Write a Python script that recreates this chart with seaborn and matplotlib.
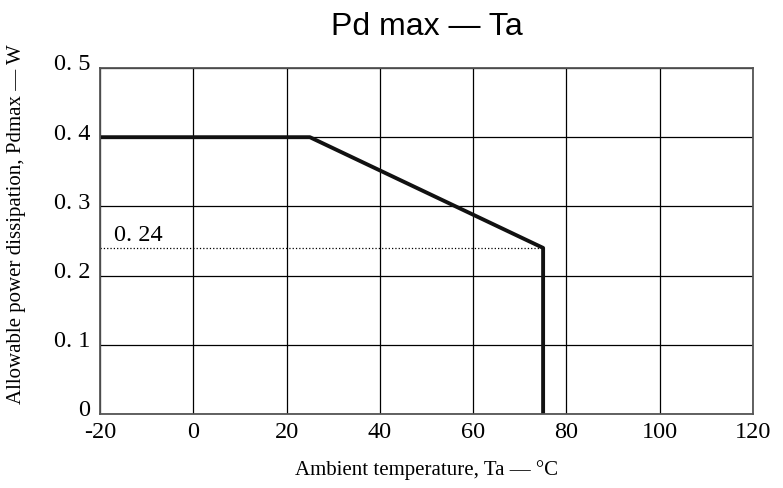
import pandas as pd
import matplotlib.pyplot as plt
import matplotlib.transforms as mtrans
import seaborn as sns

# derating curve
ta = [-20, 25, 75, 75]
pd_max = [0.4, 0.4, 0.24, 0.0]

x_ticks = [-20, 0, 20, 40, 60, 80, 100, 120]
y_ticks = [0.0, 0.1, 0.2, 0.3, 0.4, 0.5]
y_tick_labels = ['0', '0. 1', '0. 2', '0. 3', '0. 4', '0. 5']

knee_value = 0.24
knee_label = '0. 24'

sns.set_theme(style="white")
plt.rcParams['font.family'] = ['Liberation Serif', 'DejaVu Serif']
plt.rcParams['text.color'] = 'black'
plt.rcParams['axes.labelcolor'] = 'black'

df = pd.DataFrame({'Ta': ta, 'Pd': pd_max})

fig, ax = plt.subplots(figsize=(7.83, 4.88), dpi=100)
fig.subplots_adjust(left=100 / 783, right=753 / 783, top=1 - 68 / 488, bottom=1 - 414 / 488)

ax.set_xlim(-20, 120)
ax.set_ylim(0, 0.5)
ax.set_xticks(x_ticks)
ax.set_xticklabels([str(v) for v in x_ticks])
ax.set_yticks(y_ticks)
ax.set_yticklabels(y_tick_labels)

ax.grid(True, color='black', linewidth=0.9)
ax.set_axisbelow(True)

# dotted reference line at the knee
ax.plot([-20, ta[2]], [knee_value, knee_value], color='black', linestyle=':', linewidth=0.9)
ax.text(-17, knee_value + 0.003, knee_label, fontsize=17.5, ha='left', va='bottom')

sns.lineplot(data=df, x='Ta', y='Pd', sort=False, estimator=None,
             color='#111111', linewidth=2.8, ax=ax)

for s in ax.spines.values():
    s.set_color('#555555')
    s.set_linewidth(1.3)

ax.tick_params(axis='both', length=0, labelsize=17.5, colors='black')
ax.tick_params(axis='x', pad=6)
ax.tick_params(axis='y', pad=7)

# y labels sit a little above their grid lines in the original
shift_up = mtrans.ScaledTranslation(0, 4 / 72, fig.dpi_scale_trans)
for lab in ax.get_yticklabels():
    lab.set_transform(lab.get_transform() + shift_up)

ax.set_xlabel('Ambient temperature, Ta — °C', fontsize=15, labelpad=12)
ax.set_ylabel('Allowable power dissipation, Pdmax — W', fontsize=15)
ax.yaxis.set_label_coords(-0.114, 0.55)

ax.set_title('Pd max — Ta', fontsize=23, family=['Liberation Sans', 'DejaVu Sans'],
             color='black', pad=24)

fig.savefig('out.png', dpi=100)
